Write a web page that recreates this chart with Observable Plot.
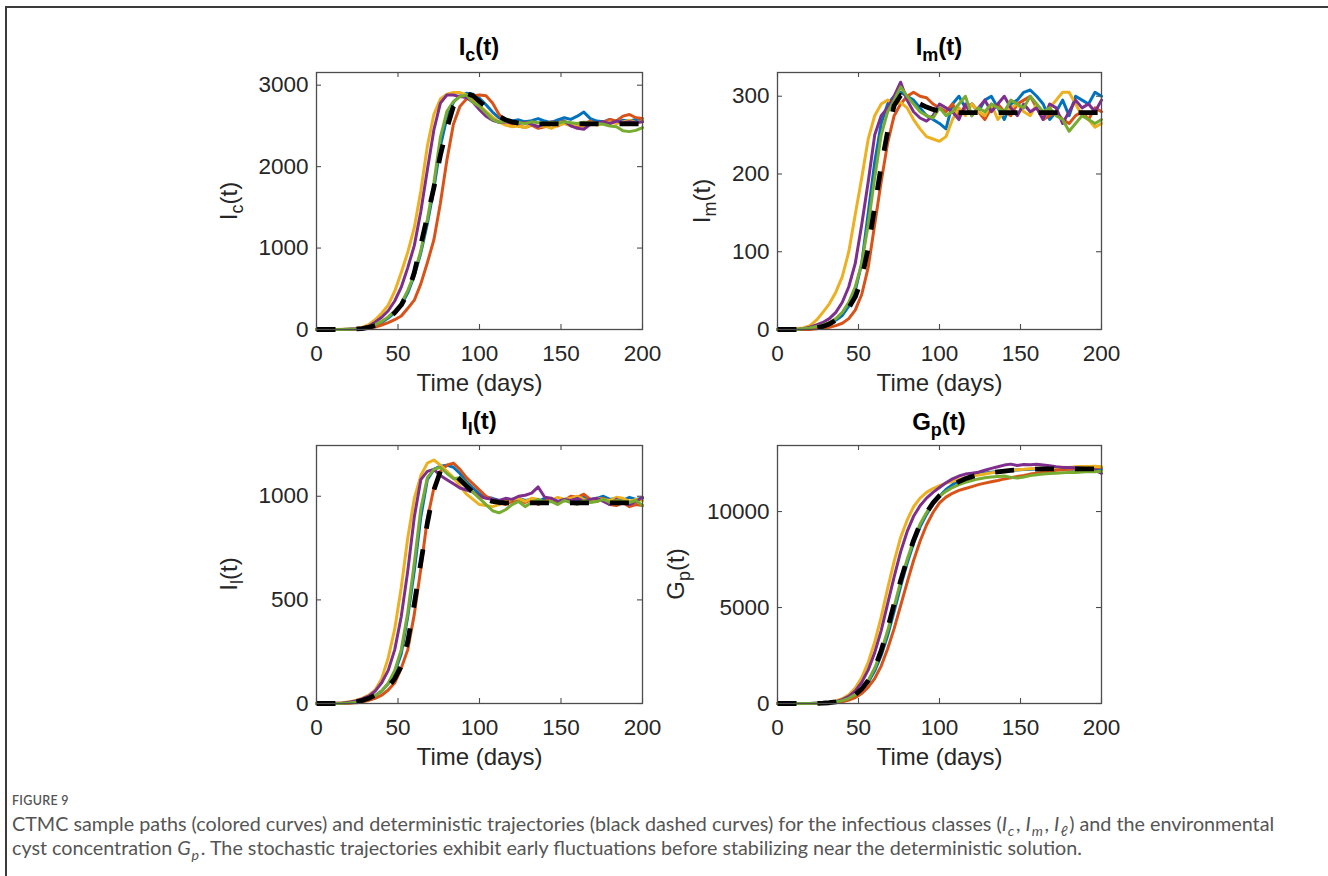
<!DOCTYPE html>
<html><head><meta charset="utf-8">
<script src="https://cdn.jsdelivr.net/npm/d3@7"></script>
<script src="https://cdn.jsdelivr.net/npm/@observablehq/plot@0.6"></script>
<style>
html,body{margin:0;padding:0;background:#fff;overflow:hidden;}
#page{position:relative;width:1328px;height:876px;overflow:hidden;background:#fff;}
#frame{position:absolute;left:5px;top:6px;width:1400px;height:1000px;border-top:2px solid #3c3c3c;border-left:2px solid #3c3c3c;}
.panel{position:absolute;}
.ttl{position:absolute;font:bold 24px 'Liberation Sans',Arial,sans-serif;color:#000;white-space:nowrap;line-height:24px;transform:translateX(-50%);}
.ylab{position:absolute;font:24px 'Liberation Sans',Arial,sans-serif;color:#262626;white-space:nowrap;line-height:24px;height:24px;width:200px;text-align:center;transform:rotate(-90deg);}
.ttl sub,.ylab sub{font-size:0.75em;vertical-align:baseline;position:relative;top:0.35em;}
#figlab{position:absolute;left:12px;top:794px;font:600 12.5px Lato,sans-serif;color:#555;letter-spacing:0.3px;line-height:13px;}
.cap{position:absolute;left:12px;font:17px Lato,sans-serif;color:#555;white-space:nowrap;line-height:17px;}
.cap sub{font-size:0.72em;font-style:italic;vertical-align:-0.3em;line-height:0;margin-left:0.06em;margin-right:0.12em;}
</style></head>
<body><div id="page"><div id="frame"></div></div>
<script>
// ---------- data ----------
const T = [0,4,8,12,16,20,24,28,32,36,40,44,48,52,56,60,64,68,72,76,80,84,88,92,96,100,104,108,112,116,120,124,128,132,136,140,144,148,152,156,160,164,168,172,176,180,184,188,192,196,200];
const X_TICKS = [0,50,100,150,200];
const SERIES_COLORS = ["#0072BD","#D95319","#EDB120","#7E2F8E","#77AC30"];

// Ic(t)
const IC_TICKS = [0,1000,2000,3000];
const IC_DET = [0,0,0,0,1,3,6,12,25,50,85,135,205,300,450,700,1040,1390,1740,2140,2470,2740,2870,2900,2870,2800,2735,2675,2620,2575,2550,2535,2528,2525,2525,2525,2525,2525,2525,2525,2525,2525,2525,2525,2525,2525,2525,2525,2525,2525,2525];
const IC_BLUE = [0,0,0,0,0,2,5,10,22,45,90,140,210,300,450,660,940,1300,1730,2250,2600,2790,2870,2900,2890,2840,2760,2670,2600,2570,2560,2575,2550,2565,2590,2560,2540,2575,2600,2580,2620,2670,2590,2560,2550,2580,2540,2570,2560,2580,2560];
const IC_ORANGE = [0,0,0,0,0,1,3,8,15,30,55,85,120,165,260,360,560,820,1100,1550,2080,2520,2740,2830,2870,2880,2870,2780,2640,2560,2520,2500,2480,2510,2470,2490,2520,2500,2540,2510,2490,2530,2560,2520,2540,2580,2560,2620,2640,2600,2590];
const IC_YELLOW = [0,0,0,0,2,5,10,25,60,120,200,300,470,700,950,1250,1700,2250,2640,2830,2890,2910,2910,2880,2820,2750,2680,2610,2550,2510,2490,2500,2480,2520,2490,2500,2470,2510,2530,2500,2520,2490,2540,2510,2530,2550,2530,2550,2570,2540,2560];
const IC_PURPLE = [0,0,0,0,1,4,8,18,40,90,150,230,350,520,760,1030,1450,1960,2450,2780,2880,2880,2860,2850,2790,2700,2620,2570,2545,2550,2540,2530,2545,2520,2490,2530,2550,2540,2560,2500,2470,2460,2520,2540,2550,2530,2560,2540,2550,2540,2550];
const IC_GREEN = [0,0,0,0,1,3,6,14,30,60,100,155,230,320,480,680,970,1350,1800,2360,2680,2800,2860,2880,2790,2740,2660,2580,2545,2560,2550,2540,2530,2550,2540,2530,2545,2535,2550,2540,2530,2545,2540,2530,2520,2500,2490,2440,2430,2445,2480];

// Im(t)
const IM_TICKS = [0,100,200,300];
const IM_DET = [0,0,0,0,0,1,2,4,7,12,18,28,42,65,105,158,210,255,288,301,300,295,290,286,283,281,280,279,279,279,279,279,279,279,279,279,279,279,279,279,279,279,279,279,279,279,279,279,279,279,279];
const IM_BLUE = [0,0,0,0,1,2,3,5,8,12,18,30,50,85,150,215,265,290,300,305,300,295,285,275,270,265,258,290,300,285,290,280,295,300,285,270,290,295,305,308,300,290,270,280,295,275,300,295,290,305,300];
const IM_ORANGE = [0,0,0,0,0,0,1,2,3,5,8,14,25,45,80,135,190,240,275,290,300,305,300,298,290,285,280,290,275,285,290,280,270,285,290,280,275,290,295,300,285,270,275,280,270,265,275,280,270,285,280];
const IM_YELLOW = [0,0,0,1,2,5,12,22,33,48,68,100,148,195,245,275,290,295,290,292,285,270,258,248,245,242,248,270,285,275,290,280,275,290,270,280,285,290,280,275,290,270,285,295,305,305,290,275,270,260,265];
const IM_PURPLE = [0,0,0,0,1,3,6,9,14,22,35,55,85,135,190,250,275,285,300,318,295,280,272,268,275,290,285,280,270,290,275,285,295,280,290,300,285,275,290,280,285,270,290,285,265,280,295,285,290,280,295];
const IM_GREEN = [0,0,0,0,1,2,4,6,9,14,22,35,55,85,135,195,250,280,295,312,300,290,280,275,272,285,275,280,290,300,275,285,280,290,285,280,295,290,285,300,290,280,285,275,270,255,265,275,270,265,270];

// Il(t)
const IL_TICKS = [0,500,1000];
const IL_DET = [0,0,0,0,1,3,7,14,25,40,55,80,120,180,300,480,680,870,1030,1120,1130,1110,1080,1050,1020,1000,985,975,970,968,968,968,968,968,968,968,968,968,968,968,968,968,968,968,968,968,968,968,968,968,968];
const IL_BLUE = [0,0,0,0,1,3,6,12,22,38,60,95,150,240,420,640,900,1080,1130,1145,1150,1140,1110,1070,1040,1010,995,990,980,975,985,990,980,985,975,990,980,970,985,990,980,995,985,990,1000,985,990,980,995,985,990];
const IL_ORANGE = [0,0,0,0,0,1,3,7,15,25,40,65,100,170,260,430,650,890,1040,1120,1150,1160,1130,1090,1060,1030,1000,985,970,960,975,980,970,985,960,975,990,970,980,1000,995,1010,985,975,990,960,955,970,950,960,955];
const IL_YELLOW = [0,0,0,1,4,8,15,25,40,65,120,220,360,560,800,990,1100,1160,1175,1150,1120,1090,1050,1010,985,960,955,950,960,975,985,990,975,990,985,970,980,995,985,990,1000,985,975,990,985,980,995,990,975,985,980];
const IL_PURPLE = [0,0,0,1,3,6,12,22,35,60,100,160,260,420,640,900,1080,1120,1130,1100,1080,1060,1040,1030,1020,1000,990,985,980,990,985,1000,1005,1015,1045,995,990,975,985,980,990,975,985,990,975,960,985,970,960,975,995];
const IL_GREEN = [0,0,0,0,1,3,6,12,22,38,62,98,160,260,440,680,940,1090,1130,1140,1110,1085,1090,1060,1020,990,960,930,920,935,960,975,950,970,985,970,975,960,980,970,960,980,970,975,985,970,980,975,970,980,955];

// Gp(t)
const GP_TICKS = [0,5000,10000];
const GP_DET = [0,0,0,0,1,3,8,18,40,80,150,270,460,760,1200,1850,2750,3900,5200,6400,7500,8500,9350,9950,10450,10830,11130,11370,11560,11710,11820,11910,11980,12030,12070,12110,12140,12165,12185,12200,12210,12218,12222,12225,12226,12226,12226,12226,12226,12226,12226];
const GP_BLUE = [0,0,0,0,1,3,7,16,35,70,130,240,420,700,1100,1700,2500,3550,4800,6100,7300,8350,9200,9850,10400,10800,11150,11400,11600,11750,11870,11950,12010,12050,12090,12120,12150,12170,12190,12200,12220,12230,12210,12230,12240,12220,12200,12230,12210,12190,12200];
const GP_ORANGE = [0,0,0,0,0,2,5,12,25,50,95,175,310,520,850,1300,1950,2850,3900,5100,6300,7450,8450,9300,9950,10450,10750,10950,11100,11200,11300,11400,11480,11550,11620,11700,11760,11820,11880,11950,12000,12050,12100,12150,12180,12200,12230,12260,12300,12320,12300];
const GP_YELLOW = [0,0,0,0,2,6,14,30,65,130,250,450,800,1350,2150,3200,4500,6000,7400,8650,9550,10250,10700,11000,11200,11350,11480,11580,11670,11760,11830,11900,11960,12020,12060,12100,12150,12180,12200,12230,12250,12260,12280,12290,12310,12300,12330,12350,12340,12360,12330];
const GP_PURPLE = [0,0,0,0,1,4,10,22,50,100,200,370,650,1100,1750,2650,3800,5200,6600,7900,8950,9750,10300,10700,11000,11250,11500,11700,11850,11950,12000,12050,12150,12250,12330,12420,12470,12400,12450,12440,12460,12420,12380,12330,12300,12290,12280,12260,12230,12150,11990];
const GP_GREEN = [0,0,0,0,1,3,8,18,40,80,150,270,460,760,1200,1850,2700,3800,5050,6350,7500,8500,9350,9950,10450,10800,11050,11250,11400,11520,11620,11700,11760,11800,11830,11850,11780,11740,11800,11870,11920,11950,11980,12000,12020,12040,12030,12060,12080,12070,12100];

// ---------- layout ----------
const PANELS = [
  {sym:"I", sub:"c", left:316, top:72, w:326, h:257, ymax:3156, ticks:IC_TICKS, det:IC_DET,
   series:[IC_BLUE,IC_ORANGE,IC_YELLOW,IC_PURPLE,IC_GREEN], titleBase:55, ylabX:228.5},
  {sym:"I", sub:"m", left:777, top:72, w:324, h:257, ymax:330.5, ticks:IM_TICKS, det:IM_DET,
   series:[IM_BLUE,IM_ORANGE,IM_YELLOW,IM_PURPLE,IM_GREEN], titleBase:55, ylabX:701.5},
  {sym:"I", sub:"l", left:316, top:445, w:326, h:258, ymax:1245, ticks:IL_TICKS, det:IL_DET,
   series:[IL_BLUE,IL_ORANGE,IL_YELLOW,IL_PURPLE,IL_GREEN], titleBase:429.5, ylabX:228.5},
  {sym:"G", sub:"p", left:777, top:445, w:324, h:258, ymax:13440, ticks:GP_TICKS, det:GP_DET,
   series:[GP_BLUE,GP_ORANGE,GP_YELLOW,GP_PURPLE,GP_GREEN], titleBase:430, ylabX:676}
];

const page = document.getElementById("page");
const mL = 110, mR = 40, mT = 10, mB = 75;
const AX = "#4d4d4d";

for (const p of PANELS) {
  const rows = arr => T.map((t, i) => ({t, v: arr[i]}));
  const marks = [
    Plot.tickX(X_TICKS, {x: d => d, insetTop: p.h - 5, stroke: AX, strokeWidth: 1.1}),
    Plot.tickX(X_TICKS, {x: d => d, insetBottom: p.h - 5, stroke: AX, strokeWidth: 1.1}),
    Plot.tickY(p.ticks, {y: d => d, insetRight: p.w - 5, stroke: AX, strokeWidth: 1.1}),
    Plot.tickY(p.ticks, {y: d => d, insetLeft: p.w - 5, stroke: AX, strokeWidth: 1.1})
  ];
  p.series.forEach((arr, k) => marks.push(
    Plot.line(rows(arr), {x: "t", y: "v", stroke: SERIES_COLORS[k], strokeWidth: 3, strokeLinejoin: "round"})
  ));
  marks.push(Plot.line(rows(p.det), {x: "t", y: "v", stroke: "#000", strokeWidth: 4.8, strokeDasharray: "19,21", strokeLinecap: "butt"}));
  marks.push(Plot.frame({stroke: AX, strokeWidth: 1.3}));
  marks.push(Plot.axisX({ticks: X_TICKS, tickSize: 0, tickPadding: 16, tickFormat: d => String(d), label: null}));
  marks.push(Plot.axisY({ticks: p.ticks, tickSize: 0, tickPadding: 8, tickFormat: d => String(d), label: null}));
  marks.push(Plot.text(["Time (days)"], {text: d => d, frameAnchor: "bottom", dy: 61.7, lineAnchor: "bottom", fontSize: 24}));

  const svg = Plot.plot({
    width: p.w + mL + mR, height: p.h + mT + mB,
    marginLeft: mL, marginRight: mR, marginTop: mT, marginBottom: mB,
    x: {domain: [0, 200], label: null},
    y: {domain: [0, p.ymax], label: null},
    style: {fontFamily: "'Liberation Sans', Arial, sans-serif", fontSize: "22.5px", color: "#262626", background: "transparent", overflow: "visible", maxWidth: "none"},
    marks
  });
  const holder = document.createElement("div");
  holder.className = "panel";
  holder.style.left = (p.left - mL) + "px";
  holder.style.top = (p.top - mT) + "px";
  holder.style.width = (p.w + mL + mR) + "px";
  holder.appendChild(svg);
  page.appendChild(holder);

  const ttl = document.createElement("div");
  ttl.className = "ttl";
  ttl.innerHTML = `${p.sym}<sub>${p.sub}</sub>(t)`;
  ttl.style.left = (p.left + p.w / 2) + "px";
  ttl.style.top = (p.titleBase - 20.3) + "px";
  page.appendChild(ttl);

  const yl = document.createElement("div");
  yl.className = "ylab";
  yl.innerHTML = `${p.sym}<sub>${p.sub}</sub>(t)`;
  yl.style.left = (p.ylabX - 100) + "px";
  yl.style.top = (p.top + p.h / 2 - 12) + "px";
  page.appendChild(yl);
}

// caption
const fig = document.createElement("div");
fig.id = "figlab";
fig.textContent = "FIGURE 9";
page.appendChild(fig);
const CAPTION_LINES = [
  "CTMC sample paths (colored curves) and deterministic trajectories (black dashed curves) for the infectious classes (<i>I</i><sub>c</sub>, <i>I</i><sub>m</sub>, <i>I</i><sub>ℓ</sub>) and the environmental",
  "cyst concentration <i>G</i><sub>p</sub>. The stochastic trajectories exhibit early fluctuations before stabilizing near the deterministic solution."
];
const capEls = CAPTION_LINES.map((html, i) => {
  const d = document.createElement("div");
  d.className = "cap";
  d.innerHTML = html;
  d.style.top = (817 + i * 24) + "px";
  page.appendChild(d);
  return d;
});
const w0 = capEls[0].getBoundingClientRect().width;
const fs = 17 * 1263 / w0;
capEls.forEach((d, i) => { d.style.fontSize = fs + "px"; d.style.lineHeight = fs + "px"; d.style.top = (832 - 0.887 * fs + i * 24) + "px"; });
</script>
</body></html>
